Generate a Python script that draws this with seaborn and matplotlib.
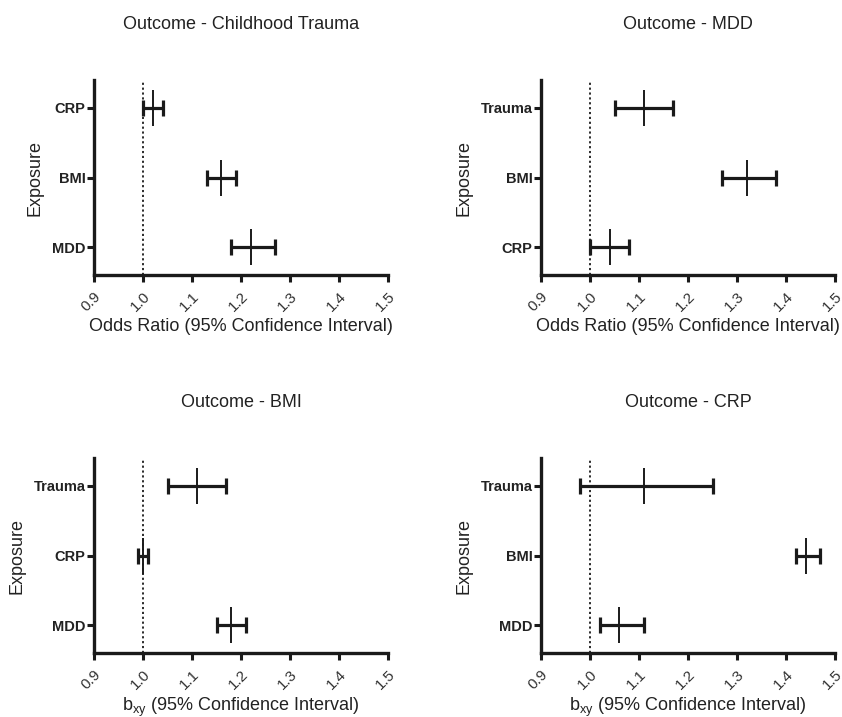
import numpy as np
import pandas as pd
import matplotlib
matplotlib.use('Agg')
import matplotlib.pyplot as plt
import seaborn as sns

# 各面板数据 (点估计 / 95% CI)
titles = ['Outcome - Childhood Trauma', 'Outcome - MDD', 'Outcome - BMI', 'Outcome - CRP']
xlabels = ['Odds Ratio (95% Confidence Interval)', 'Odds Ratio (95% Confidence Interval)',
           r'$\mathregular{b_{xy}}$ (95% Confidence Interval)', r'$\mathregular{b_{xy}}$ (95% Confidence Interval)']

exposure_trauma = ['CRP', 'BMI', 'MDD']
est_trauma = [1.02, 1.16, 1.22]
lo_trauma = [1.00, 1.13, 1.18]
hi_trauma = [1.04, 1.19, 1.27]

exposure_mdd = ['Trauma', 'BMI', 'CRP']
est_mdd = [1.11, 1.32, 1.04]
lo_mdd = [1.05, 1.27, 1.00]
hi_mdd = [1.17, 1.38, 1.08]

exposure_bmi = ['Trauma', 'CRP', 'MDD']
est_bmi = [1.11, 1.00, 1.18]
lo_bmi = [1.05, 0.99, 1.15]
hi_bmi = [1.17, 1.01, 1.21]

exposure_crp = ['Trauma', 'BMI', 'MDD']
est_crp = [1.11, 1.44, 1.06]
lo_crp = [0.98, 1.42, 1.02]
hi_crp = [1.25, 1.47, 1.11]

xticks = [0.9, 1.0, 1.1, 1.2, 1.3, 1.4, 1.5]

panels = [
    (exposure_trauma, est_trauma, lo_trauma, hi_trauma),
    (exposure_mdd, est_mdd, lo_mdd, hi_mdd),
    (exposure_bmi, est_bmi, lo_bmi, hi_bmi),
    (exposure_crp, est_crp, lo_crp, hi_crp),
]

sns.set_theme(style='ticks')
plt.rcParams['font.family'] = ['Liberation Sans', 'DejaVu Sans']
plt.rcParams['mathtext.fontset'] = 'custom'
plt.rcParams['mathtext.rm'] = 'Liberation Sans'

fig = plt.figure(figsize=(8.42, 7.17), dpi=100)
W, H = 842, 717
boxes = [(94, 80), (541, 80), (94, 458), (541, 458)]

for i, (exp, est, lo, hi) in enumerate(panels):
    left, top = boxes[i]
    ax = fig.add_axes([left / W, (H - top - 195) / H, 294 / W, 195 / H])
    df = pd.DataFrame({'exposure': exp, 'est': est, 'lo': lo, 'hi': hi})
    ypos = np.arange(len(df))
    err = np.vstack([df['est'] - df['lo'], df['hi'] - df['est']])
    ax.errorbar(df['est'], ypos, xerr=err, fmt='none', ecolor='#1a1a1a',
                elinewidth=2.3, capsize=5.5, capthick=2.3, zorder=3)
    sns.scatterplot(x=df['est'], y=ypos, marker='|', s=650, color='#1a1a1a',
                    linewidth=1.4, ax=ax, zorder=4, legend=False)
    ax.axvline(1.0, color='#1a1a1a', linestyle=(0, (1.2, 1.5)), linewidth=1.3, zorder=1)

    ax.set_xlim(0.9, 1.5)
    ax.set_ylim(2.4, -0.4)
    ax.set_xticks(xticks)
    ax.set_xticklabels([f'{v:.1f}' for v in xticks], rotation=45, ha='right',
                       rotation_mode='anchor', fontsize=11, color='#333333')
    ax.set_yticks(ypos)
    ax.set_yticklabels(df['exposure'], fontsize=10.5, fontweight='bold', color='#222222')
    ax.tick_params(axis='both', length=5, width=2.2, color='#1a1a1a', pad=1)
    ax.tick_params(axis='x', pad=5)
    sns.despine(ax=ax)
    for s in ['left', 'bottom']:
        ax.spines[s].set_linewidth(2.4)
        ax.spines[s].set_color('#1a1a1a')
    ax.set_xlabel(xlabels[i], fontsize=13, color='#222222', labelpad=3)
    ax.set_ylabel('Exposure', fontsize=13, color='#222222', labelpad=6)
    ax.set_title(titles[i], fontsize=13, color='#222222', pad=37)

fig.savefig('out.png', dpi=100)
